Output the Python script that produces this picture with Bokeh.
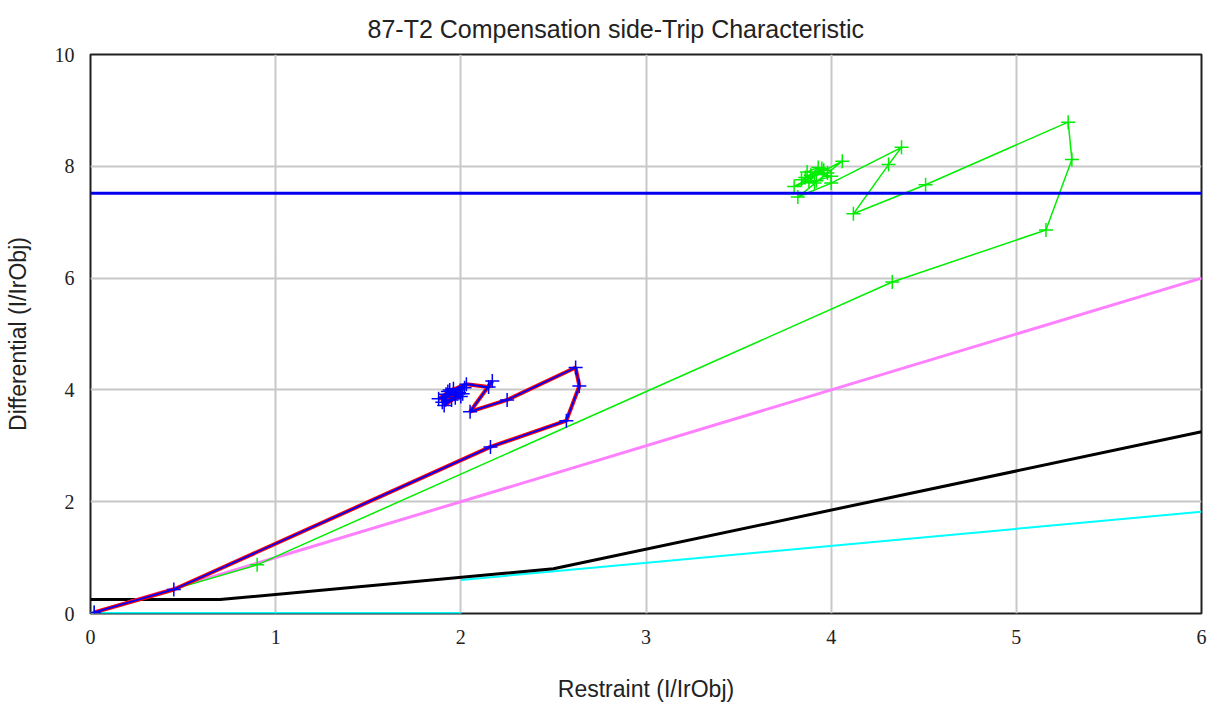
from bokeh.plotting import figure
from bokeh.models import FixedTicker, Range1d
from bokeh.embed import file_html
from bokeh.resources import INLINE

# Characteristic curves
char_black_x = [0.0, 0.7, 2.5, 6.0]
char_black_y = [0.25, 0.25, 0.8, 3.25]
cyan_low_x = [0.0, 2.0]
cyan_low_y = [0.0, 0.0]
cyan_x = [2.0, 6.0]
cyan_y = [0.6, 1.82]
magenta_x = [0.0, 6.0]
magenta_y = [0.0, 6.0]
hline_x = [0.0, 6.0]
hline_y = [7.52, 7.52]

# Measured trajectory 1 (blue/red)
blue_x = [0.02, 0.45, 2.16, 2.57, 2.64, 2.62, 2.25, 2.05, 2.17, 2.15, 2.03, 1.93, 2.00, 1.90,
          1.96, 1.88, 1.99, 1.92, 2.02, 1.91, 1.97, 1.94, 2.01, 1.95]
blue_y = [0.02, 0.43, 2.98, 3.45, 4.07, 4.40, 3.82, 3.61, 4.16, 4.05, 4.10, 3.97, 3.88, 3.78,
          4.02, 3.84, 3.95, 3.92, 4.04, 3.72, 3.86, 4.00, 3.93, 3.82]

# Measured trajectory 2 (green)
green_x = [0.02, 0.90, 4.33, 5.16, 5.30, 5.28, 4.51, 4.12, 4.31, 4.38, 4.00, 3.82, 4.06, 3.80,
           3.88, 3.95, 3.86, 3.98, 3.91, 3.84, 3.96, 3.89, 3.93, 3.87, 4.00, 3.92]
green_y = [0.02, 0.87, 5.93, 6.86, 8.12, 8.79, 7.67, 7.15, 8.03, 8.34, 7.70, 7.45, 8.09, 7.64,
           7.72, 7.96, 7.80, 7.88, 7.70, 7.76, 7.93, 7.84, 7.98, 7.90, 7.82, 7.74]

x_ticks = [0, 1, 2, 3, 4, 5, 6]
y_ticks = [0, 2, 4, 6, 8, 10]

p = figure(width=1225, height=704, output_backend="svg", toolbar_location=None,
           x_range=Range1d(0, 6), y_range=Range1d(0, 10),
           title="87-T2 Compensation side-Trip Characteristic",
           min_border_left=90, min_border_right=24, min_border_top=54, min_border_bottom=89)

p.title.align = "left"
p.title.offset = 277
p.title.text_font = "Liberation Sans"
p.title.text_font_size = "25px"
p.title.text_font_style = "normal"
p.title.text_color = "#222222"
p.title.standoff = 24

for ax in (p.xaxis[0], p.yaxis[0]):
    ax.major_tick_line_color = None
    ax.minor_tick_line_color = None
    ax.axis_line_color = None
    ax.major_label_text_font = "Liberation Serif"
    ax.major_label_text_font_size = "20px"
    ax.major_label_text_color = "#222222"
    ax.axis_label_text_font = "Liberation Sans"
    ax.axis_label_text_font_size = "23px"
    ax.axis_label_text_font_style = "normal"
    ax.axis_label_text_color = "#222222"

p.xaxis.ticker = FixedTicker(ticks=x_ticks)
p.yaxis.ticker = FixedTicker(ticks=y_ticks)
p.xaxis.axis_label = "Restraint (I/IrObj)"
p.yaxis.axis_label = "Differential (I/IrObj)"
p.xaxis.major_label_standoff = 10
p.xaxis.axis_label_standoff = 29
p.yaxis.major_label_standoff = 10
p.yaxis.axis_label_standoff = 21

p.xgrid.ticker = FixedTicker(ticks=x_ticks)
p.ygrid.ticker = FixedTicker(ticks=y_ticks)
p.grid.grid_line_color = "#c8c8c8"
p.grid.grid_line_width = 2
p.outline_line_color = "#202020"
p.outline_line_width = 2
p.background_fill_color = "white"
p.border_fill_color = "white"

p.line(cyan_low_x, cyan_low_y, line_color="#00ffff", line_width=3)
p.line(cyan_x, cyan_y, line_color="#00ffff", line_width=2)
p.line(char_black_x, char_black_y, line_color="black", line_width=3)
p.line(magenta_x, magenta_y, line_color="#ff80ff", line_width=3)

p.line(green_x, green_y, line_color="#00ee00", line_width=1.5)
p.scatter(green_x, green_y, marker="cross", size=14, line_color="#00ee00", line_width=1.5)

p.line(hline_x, hline_y, line_color="#0000ee", line_width=3)

p.line(blue_x, blue_y, line_color="#ff0000", line_width=4)
p.line(blue_x, blue_y, line_color="#0000ff", line_width=1.8)
p.scatter(blue_x, blue_y, marker="cross", size=14, line_color="#0000ff", line_width=1.5)

open("out.html", "w").write(file_html(p, INLINE))
